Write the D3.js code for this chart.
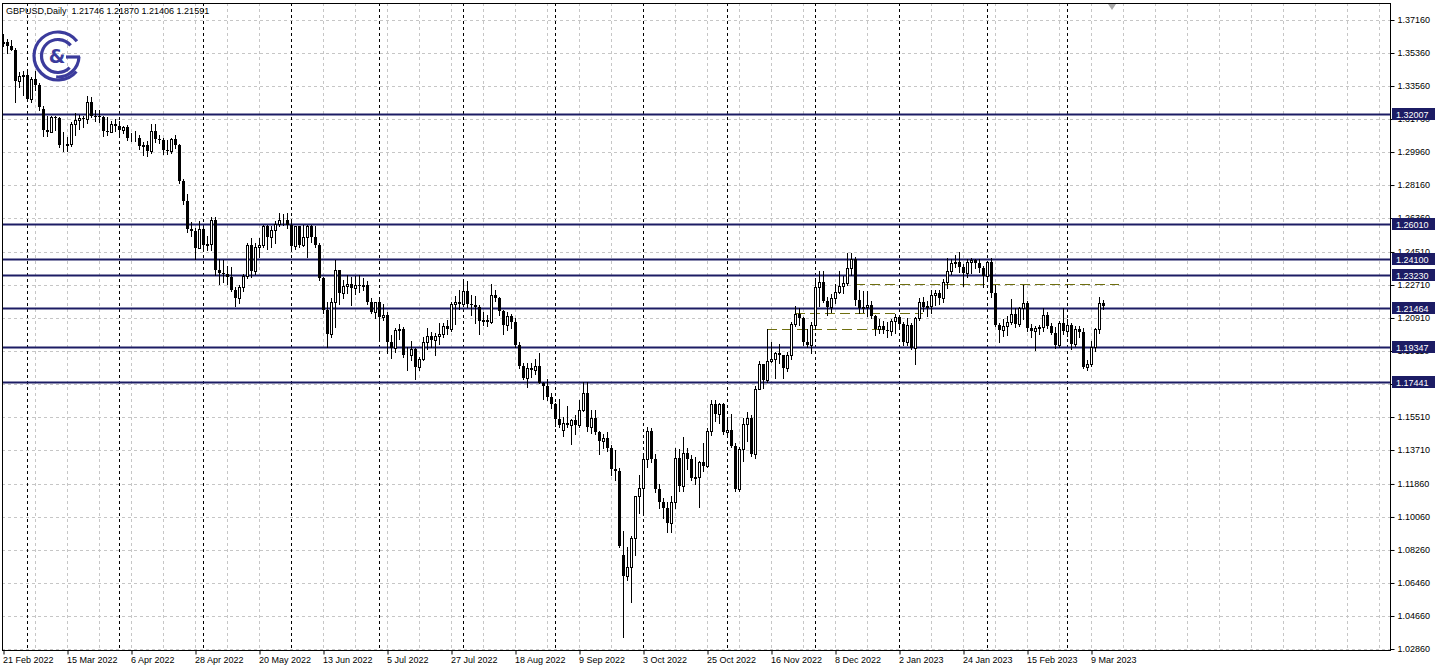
<!DOCTYPE html>
<html><head><meta charset="utf-8">
<script src="https://cdn.jsdelivr.net/npm/d3@7"></script>
<style>html,body{margin:0;padding:0;background:#fff;} svg{display:block;}</style>
</head><body><svg id="c" width="1438" height="671"></svg>
<script>
// ---------------- DATA ----------------
const symbolTitle = "GBPUSD,Daily";
const lastQuote = ["1.21746", "1.21870", "1.21406", "1.21591"];
const priceTicks = [1.37160,1.35360,1.33560,1.31760,1.29960,1.28160,1.26360,1.24510,1.22710,1.20910,1.19110,1.17310,1.15510,1.13710,1.11860,1.10060,1.08260,1.06460,1.04660,1.02860];
const levels = [1.32007,1.26010,1.24100,1.23230,1.21464,1.19347,1.17441];
const dateTicks = ["21 Feb 2022","15 Mar 2022","6 Apr 2022","28 Apr 2022","20 May 2022","13 Jun 2022","5 Jul 2022","27 Jul 2022","18 Aug 2022","9 Sep 2022","3 Oct 2022","25 Oct 2022","16 Nov 2022","8 Dec 2022","2 Jan 2023","24 Jan 2023","15 Feb 2023","9 Mar 2023"];
const dateTickEvery = 16;               // bars between date labels
const monthStartBars = [6,29,50,72,94,115,138,160,181,203,224,246,266];
// olive dashed zone lines: [price, fromBar, toBar]
const zoneLines = [[1.2031,191,221],[1.2118,198,230],[1.2276,213,279]];
// short olive vertical marker: [bar, priceTop, priceBottom]
const zoneTick = [191, 1.2031, 1.1950];

// daily candles [open, high, low, close]
const feb2022 = [
[1.3590,1.3640,1.3575,1.3595],[1.3595,1.3615,1.3535,1.3575],[1.3575,1.3605,1.3550,1.3555],
[1.3555,1.3565,1.3270,1.3385],[1.3385,1.3435,1.3350,1.3410],[1.3410,1.3440,1.3305,1.3415]];
const mar2022 = [
[1.3415,1.3440,1.3275,1.3285],[1.3285,1.3405,1.3270,1.3395],[1.3395,1.3440,1.3335,1.3360],
[1.3360,1.3375,1.3225,1.3240],[1.3230,1.3245,1.3085,1.3115],[1.3115,1.3190,1.3085,1.3105],
[1.3105,1.3190,1.3105,1.3185],[1.3185,1.3195,1.3115,1.3180],[1.3180,1.3185,1.3025,1.3035],
[1.3035,1.3105,1.3000,1.3035],[1.3035,1.3080,1.3000,1.3040],[1.3040,1.3160,1.3030,1.3150],
[1.3150,1.3210,1.3090,1.3170],[1.3170,1.3200,1.3120,1.3180],[1.3180,1.3195,1.3135,1.3175],
[1.3175,1.3300,1.3155,1.3270],[1.3270,1.3295,1.3185,1.3195],[1.3195,1.3225,1.3165,1.3190],
[1.3190,1.3225,1.3160,1.3185],[1.3185,1.3190,1.3085,1.3110],[1.3110,1.3185,1.3090,1.3105],
[1.3105,1.3165,1.3105,1.3150],[1.3150,1.3175,1.3110,1.3140]];
const apr2022 = [
[1.3140,1.3165,1.3090,1.3115],[1.3115,1.3140,1.3100,1.3130],[1.3130,1.3145,1.3060,1.3070],
[1.3070,1.3100,1.3055,1.3070],[1.3070,1.3110,1.3055,1.3075],[1.3075,1.3090,1.3010,1.3030],
[1.3030,1.3050,1.2980,1.3035],[1.3035,1.3055,1.2975,1.3000],[1.3000,1.3150,1.2990,1.3110],
[1.3110,1.3150,1.3050,1.3065],[1.3065,1.3090,1.3045,1.3060],[1.3060,1.3075,1.2985,1.3005],
[1.3005,1.3060,1.2985,1.3000],[1.3000,1.3075,1.2990,1.3065],[1.3065,1.3090,1.3020,1.3035],
[1.3035,1.3040,1.2825,1.2840],[1.2840,1.2850,1.2710,1.2730],[1.2730,1.2765,1.2560,1.2575],
[1.2575,1.2615,1.2540,1.2565],[1.2565,1.2580,1.2410,1.2475],[1.2475,1.2620,1.2470,1.2575]];
const may2022 = [
[1.2575,1.2580,1.2465,1.2490],[1.2490,1.2540,1.2460,1.2495],[1.2495,1.2640,1.2460,1.2625],
[1.2625,1.2640,1.2325,1.2355],[1.2355,1.2410,1.2275,1.2335],[1.2335,1.2405,1.2290,1.2330],
[1.2330,1.2375,1.2275,1.2315],[1.2315,1.2370,1.2240,1.2245],[1.2245,1.2260,1.2155,1.2200],
[1.2200,1.2270,1.2175,1.2260],[1.2260,1.2330,1.2240,1.2320],[1.2320,1.2500,1.2310,1.2490],
[1.2490,1.2525,1.2315,1.2345],[1.2345,1.2500,1.2330,1.2480],[1.2480,1.2525,1.2425,1.2490],
[1.2490,1.2600,1.2480,1.2590],[1.2590,1.2600,1.2465,1.2535],[1.2535,1.2595,1.2480,1.2570],
[1.2570,1.2620,1.2500,1.2605],[1.2605,1.2665,1.2590,1.2625],[1.2625,1.2660,1.2600,1.2625],
[1.2625,1.2665,1.2580,1.2600]];
const jun2022 = [
[1.2600,1.2615,1.2460,1.2485],[1.2485,1.2595,1.2465,1.2590],[1.2590,1.2595,1.2480,1.2490],
[1.2490,1.2600,1.2485,1.2530],[1.2530,1.2600,1.2425,1.2590],[1.2590,1.2600,1.2505,1.2535],
[1.2535,1.2595,1.2480,1.2490],[1.2490,1.2500,1.2300,1.2310],[1.2310,1.2315,1.2120,1.2135],
[1.2135,1.2180,1.1935,1.2005],[1.2005,1.2200,1.1990,1.2180],[1.2180,1.2405,1.2040,1.2350],
[1.2350,1.2355,1.2170,1.2225],[1.2225,1.2300,1.2200,1.2265],[1.2265,1.2325,1.2230,1.2275],
[1.2275,1.2315,1.2160,1.2255],[1.2255,1.2320,1.2220,1.2270],[1.2270,1.2325,1.2235,1.2265],
[1.2265,1.2310,1.2245,1.2270],[1.2270,1.2295,1.2165,1.2180],[1.2180,1.2200,1.2120,1.2125],
[1.2125,1.2180,1.2090,1.2180]];
const jul2022 = [
[1.2180,1.2190,1.1975,1.2095],[1.2095,1.2165,1.2080,1.2110],[1.2110,1.2125,1.1900,1.1960],
[1.1960,1.2000,1.1875,1.1925],[1.1925,1.2035,1.1905,1.2025],[1.2025,1.2060,1.1975,1.2030],
[1.2030,1.2040,1.1880,1.1890],[1.1890,1.1935,1.1805,1.1890],[1.1890,1.1965,1.1860,1.1920],
[1.1920,1.1925,1.1760,1.1825],[1.1825,1.1880,1.1805,1.1865],[1.1865,1.1990,1.1860,1.1960],
[1.1960,1.2035,1.1920,1.1995],[1.1995,1.2015,1.1935,1.1970],[1.1970,1.2010,1.1890,1.1995],
[1.1995,1.2065,1.1950,1.2005],[1.2005,1.2065,1.1990,1.2045],[1.2045,1.2080,1.2005,1.2030],
[1.2030,1.2180,1.2020,1.2165],[1.2165,1.2210,1.2060,1.2180],[1.2180,1.2245,1.2140,1.2165]];
const aug2022 = [
[1.2165,1.2295,1.2155,1.2240],[1.2240,1.2295,1.2150,1.2165],[1.2165,1.2215,1.2110,1.2160],
[1.2160,1.2210,1.2065,1.2150],[1.2150,1.2160,1.2005,1.2075],[1.2075,1.2125,1.2055,1.2080],
[1.2080,1.2110,1.2045,1.2070],[1.2070,1.2275,1.2065,1.2215],[1.2215,1.2245,1.2185,1.2200],
[1.2200,1.2205,1.2105,1.2130],[1.2130,1.2135,1.2005,1.2055],[1.2055,1.2125,1.2025,1.2100],
[1.2100,1.2115,1.2035,1.2070],[1.2070,1.2090,1.1935,1.1945],[1.1945,1.1960,1.1820,1.1830],
[1.1830,1.1845,1.1760,1.1765],[1.1765,1.1845,1.1715,1.1820],[1.1820,1.1845,1.1770,1.1805],
[1.1805,1.1865,1.1785,1.1830],[1.1830,1.1900,1.1735,1.1735],[1.1735,1.1740,1.1650,1.1720],
[1.1720,1.1760,1.1645,1.1660],[1.1660,1.1680,1.1600,1.1620]];
const sep2022 = [
[1.1620,1.1625,1.1500,1.1540],[1.1540,1.1650,1.1495,1.1510],[1.1480,1.1550,1.1445,1.1520],
[1.1520,1.1610,1.1495,1.1510],[1.1510,1.1540,1.1405,1.1535],[1.1535,1.1560,1.1460,1.1505],
[1.1505,1.1645,1.1495,1.1590],[1.1590,1.1740,1.1585,1.1680],[1.1680,1.1740,1.1475,1.1495],
[1.1495,1.1590,1.1465,1.1545],[1.1545,1.1590,1.1460,1.1470],[1.1470,1.1475,1.1350,1.1420],
[1.1420,1.1460,1.1380,1.1435],[1.1435,1.1470,1.1365,1.1380],[1.1380,1.1400,1.1235,1.1270],
[1.1270,1.1370,1.1210,1.1255],[1.1255,1.1275,1.0840,1.0850],[1.0800,1.0930,1.0350,1.0685],
[1.0685,1.0840,1.0660,1.0735],[1.0735,1.0900,1.0540,1.0890],[1.0890,1.1120,1.0800,1.1120],
[1.1120,1.1235,1.1025,1.1165]];
const oct2022 = [
[1.1165,1.1355,1.1025,1.1320],[1.1320,1.1495,1.1280,1.1475],[1.1475,1.1490,1.1305,1.1320],
[1.1320,1.1350,1.1140,1.1160],[1.1160,1.1185,1.1055,1.1090],[1.1090,1.1110,1.1000,1.1055],
[1.1055,1.1090,1.0925,1.0975],[1.0975,1.1120,1.0925,1.1090],[1.1090,1.1380,1.1055,1.1325],
[1.1325,1.1375,1.1150,1.1175],[1.1175,1.1440,1.1150,1.1355],[1.1355,1.1380,1.1270,1.1320],
[1.1320,1.1345,1.1205,1.1220],[1.1220,1.1335,1.1185,1.1225],[1.1225,1.1310,1.1060,1.1305],
[1.1305,1.1410,1.1255,1.1285],[1.1285,1.1490,1.1280,1.1475],[1.1475,1.1645,1.1455,1.1620],
[1.1620,1.1645,1.1530,1.1570],[1.1570,1.1630,1.1520,1.1620],[1.1620,1.1625,1.1460,1.1470]];
const nov2022 = [
[1.1470,1.1550,1.1445,1.1480],[1.1480,1.1565,1.1385,1.1395],[1.1395,1.1410,1.1145,1.1160],
[1.1160,1.1385,1.1150,1.1375],[1.1375,1.1545,1.1310,1.1515],[1.1515,1.1580,1.1420,1.1545],
[1.1545,1.1560,1.1340,1.1350],[1.1350,1.1720,1.1330,1.1705],[1.1705,1.1855,1.1705,1.1840],
[1.1840,1.1840,1.1710,1.1755],[1.1755,1.2030,1.1740,1.1855],[1.1855,1.1960,1.1850,1.1870],
[1.1870,1.1905,1.1765,1.1900],[1.1900,1.1950,1.1845,1.1890],[1.1890,1.1890,1.1765,1.1820],
[1.1820,1.1905,1.1800,1.1890],[1.1890,1.2070,1.1870,1.2060],[1.2060,1.2155,1.2045,1.2115],
[1.2115,1.2145,1.2055,1.2090],[1.2090,1.2095,1.1945,1.1960],[1.1960,1.2030,1.1935,1.1945],
[1.1945,1.2070,1.1900,1.2055]];
const dec2022 = [
[1.2055,1.2310,1.2030,1.2260],[1.2260,1.2345,1.2155,1.2290],[1.2290,1.2345,1.2180,1.2185],
[1.2185,1.2205,1.2105,1.2150],[1.2150,1.2220,1.2125,1.2200],[1.2200,1.2275,1.2175,1.2235],
[1.2235,1.2345,1.2225,1.2265],[1.2265,1.2320,1.2225,1.2280],[1.2280,1.2445,1.2270,1.2365],
[1.2365,1.2445,1.2325,1.2415],[1.2415,1.2425,1.2160,1.2190],[1.2190,1.2245,1.2120,1.2145],
[1.2145,1.2240,1.2125,1.2150],[1.2150,1.2240,1.2100,1.2160],[1.2160,1.2185,1.2090,1.2100],
[1.2100,1.2110,1.2000,1.2030],[1.2030,1.2085,1.2010,1.2050],[1.2050,1.2075,1.2010,1.2025],
[1.2025,1.2070,1.1990,1.2020],[1.2020,1.2085,1.2000,1.2075],[1.2075,1.2115,1.2010,1.2095]];
const jan2023 = [
[1.2095,1.2110,1.2035,1.2060],[1.2060,1.2070,1.1945,1.1960],[1.1960,1.2090,1.1945,1.2055],
[1.2055,1.2065,1.1920,1.1925],[1.1925,1.2095,1.1840,1.2090],[1.2090,1.2200,1.2080,1.2180],
[1.2180,1.2205,1.2130,1.2150],[1.2150,1.2185,1.2100,1.2155],[1.2155,1.2245,1.2120,1.2215],
[1.2215,1.2245,1.2160,1.2230],[1.2230,1.2245,1.2170,1.2200],[1.2200,1.2305,1.2180,1.2290],
[1.2290,1.2420,1.2255,1.2345],[1.2345,1.2410,1.2330,1.2390],[1.2390,1.2435,1.2370,1.2395],
[1.2395,1.2450,1.2340,1.2370],[1.2370,1.2385,1.2265,1.2335],[1.2335,1.2415,1.2315,1.2395],
[1.2395,1.2420,1.2335,1.2405],[1.2405,1.2415,1.2365,1.2390],[1.2390,1.2415,1.2340,1.2365],
[1.2365,1.2375,1.2260,1.2320]];
const feb2023 = [
[1.2320,1.2400,1.2300,1.2395],[1.2395,1.2420,1.2205,1.2230],[1.2230,1.2270,1.2045,1.2055],
[1.2055,1.2065,1.1960,1.2025],[1.2025,1.2085,1.1995,1.2045],[1.2045,1.2100,1.2000,1.2070],
[1.2070,1.2195,1.2060,1.2115],[1.2115,1.2145,1.2040,1.2060],[1.2060,1.2150,1.2045,1.2145],
[1.2145,1.2270,1.2085,1.2175],[1.2175,1.2185,1.2020,1.2035],[1.2035,1.2060,1.1990,1.2020],
[1.2020,1.2045,1.1915,1.2035],[1.2035,1.2055,1.2005,1.2040],[1.2040,1.2145,1.2020,1.2110],
[1.2110,1.2125,1.2035,1.2050],[1.2050,1.2065,1.2005,1.2010],[1.2010,1.2040,1.1925,1.1945],
[1.1945,1.2075,1.1935,1.2065],[1.2065,1.2145,1.2005,1.2020]];
const mar2023 = [
[1.2020,1.2085,1.1995,1.2055],[1.2055,1.2065,1.1920,1.1950],[1.1950,1.2045,1.1940,1.2030],
[1.2030,1.2045,1.1985,1.2015],[1.2015,1.2035,1.1820,1.1825],[1.1825,1.1860,1.1805,1.1840],
[1.1840,1.1965,1.1830,1.1935],[1.1935,1.2035,1.1910,1.2030],[1.2030,1.2205,1.2010,1.2175],
[1.21746,1.21870,1.21406,1.21591]];

const candles = [].concat(feb2022,mar2022,apr2022,may2022,jun2022,jul2022,aug2022,sep2022,
  oct2022,nov2022,dec2022,jan2023,feb2023,mar2023);

// ---------------- DRAW ----------------
const svg = d3.select("#c");
const plot = {left: 2, top: 3, right: 1390, bottom: 650};
const x = d3.scaleLinear().domain([0, 275]).range([3, 1103]);
const y = d3.scaleLinear().domain([1.02860, 1.37160]).range([649, 20]);
const px = v => Math.round(v);
const FONT = "'Liberation Sans', Arial, sans-serif";

svg.append("rect").attr("width",1438).attr("height",671).attr("fill","#fff");

svg.append("defs").append("clipPath").attr("id","pc")
  .append("rect").attr("x",plot.left).attr("y",plot.top)
  .attr("width",plot.right-plot.left).attr("height",plot.bottom-plot.top);
const g = svg.append("g").attr("clip-path","url(#pc)");

// grid: horizontal at price ticks
g.selectAll("line.hg").data(priceTicks).enter().append("line")
  .attr("x1",plot.left).attr("x2",plot.right)
  .attr("y1",d=>px(y(d))+0.5).attr("y2",d=>px(y(d))+0.5)
  .attr("stroke","#c6c6c6").attr("stroke-dasharray","3,3");
// grid: vertical every 8 bars
const vgrid = d3.range(8, 350, 8);
g.selectAll("line.vg").data(vgrid).enter().append("line")
  .attr("x1",d=>px(x(d))+0.5).attr("x2",d=>px(x(d))+0.5)
  .attr("y1",plot.top).attr("y2",plot.bottom)
  .attr("stroke","#c6c6c6").attr("stroke-dasharray","3,3");
// month separators
g.selectAll("line.ms").data(monthStartBars).enter().append("line")
  .attr("x1",d=>px(x(d))+0.5).attr("x2",d=>px(x(d))+0.5)
  .attr("y1",plot.top).attr("y2",plot.bottom)
  .attr("stroke","#000").attr("stroke-dasharray","3,3");

// logo (C & G mark)
const LC = "#3b3b9c", cxL = 58, cyL = 56, deg = Math.PI/180;
const logo = g.append("g").attr("fill","none").attr("stroke",LC).attr("stroke-width",3.2);
function arcPath(r, a0, a1, ccw){ const p = d3.path(); p.arc(cxL, cyL, r, a0*deg, a1*deg, ccw); return p.toString(); }
logo.append("path").attr("d", arcPath(24, -38, 40, true));   // outer C
logo.append("path").attr("d", arcPath(16.5, -40, 45, true)); // inner C
logo.append("path").attr("d", arcPath(21, 2, 95, false));    // G bowl
logo.append("line").attr("x1",cxL+8).attr("x2",cxL+22).attr("y1",cyL+1).attr("y2",cyL+1);
logo.append("text").attr("x",cxL-1).attr("y",cyL+7).attr("text-anchor","middle")
  .attr("stroke","none").attr("fill",LC).attr("font-family","'DejaVu Sans', sans-serif")
  .attr("font-weight","bold").attr("font-size",19).text("&");

// level lines
g.selectAll("line.lv").data(levels).enter().append("line")
  .attr("x1",plot.left).attr("x2",plot.right)
  .attr("y1",d=>px(y(d))+0.5).attr("y2",d=>px(y(d))+0.5)
  .attr("stroke","#1c1c64").attr("stroke-width",2);

// olive zone lines
g.selectAll("line.zl").data(zoneLines).enter().append("line")
  .attr("x1",d=>x(d[1])).attr("x2",d=>x(d[2]))
  .attr("y1",d=>px(y(d[0]))+0.5).attr("y2",d=>px(y(d[0]))+0.5)
  .attr("stroke","#6f6f10").attr("stroke-dasharray","10,5");
g.append("line").attr("x1",px(x(zoneTick[0]))+0.5).attr("x2",px(x(zoneTick[0]))+0.5)
  .attr("y1",px(y(zoneTick[1]))).attr("y2",px(y(zoneTick[2])))
  .attr("stroke","#6f6f10");

// candles
const cg = g.append("g");
candles.forEach((c,i)=>{
  const [o,h,l,cl] = c;
  const cx = px(x(i));
  cg.append("line").attr("x1",cx+0.5).attr("x2",cx+0.5)
    .attr("y1",px(y(h))).attr("y2",px(y(l))+1).attr("stroke","#000");
  const top = px(y(Math.max(o,cl))), bot = px(y(Math.min(o,cl)));
  if (cl >= o) {
    cg.append("rect").attr("x",cx-0.5).attr("y",top+0.5)
      .attr("width",2).attr("height",Math.max(bot-top,0))
      .attr("fill","#fff").attr("stroke","#000");
  } else {
    cg.append("rect").attr("x",cx-1).attr("y",top)
      .attr("width",3).attr("height",Math.max(bot-top,1))
      .attr("fill","#000");
  }
});

// frame
svg.append("rect").attr("x",plot.left+0.5).attr("y",plot.top+0.5)
  .attr("width",plot.right-plot.left).attr("height",plot.bottom-plot.top)
  .attr("fill","none").attr("stroke","#000");

// right price axis
const ya = svg.append("g").attr("transform",`translate(${plot.right+0.5},0)`)
  .call(d3.axisRight(y).tickValues(priceTicks).tickFormat(d3.format(".5f")).tickSize(4).tickPadding(3));
ya.select(".domain").remove();
ya.selectAll("text").attr("font-family",FONT).attr("font-size",9).attr("fill","#000");
ya.selectAll("line").attr("stroke","#000");

// bottom date axis
const tickBars = dateTicks.map((d,i)=>i*dateTickEvery);
const xa = svg.append("g").attr("transform",`translate(0.5,${plot.bottom+0.5})`)
  .call(d3.axisBottom(x).tickValues(tickBars).tickFormat((d,i)=>dateTicks[i]).tickSize(4).tickPadding(2));
xa.select(".domain").remove();
xa.selectAll("text").attr("font-family",FONT).attr("font-size",9).attr("fill","#000")
  .attr("text-anchor","start").attr("dx",-1);
xa.selectAll("line").attr("stroke","#000");

// level labels
const lb = svg.selectAll("g.lb").data(levels).enter().append("g")
  .attr("transform",d=>`translate(${plot.right+2},${px(y(d))})`);
lb.append("rect").attr("x",0).attr("y",-6).attr("width",43).attr("height",12).attr("fill","#1c1c64");
lb.append("text").attr("x",4).attr("y",3.5).attr("fill","#fff")
  .attr("font-family",FONT).attr("font-size",9).text(d=>d3.format(".5f")(d));

// header
svg.append("text").attr("x",6).attr("y",14).attr("font-family",FONT).attr("font-size",9)
  .attr("fill","#000").attr("xml:space","preserve")
  .text(symbolTitle + "  " + lastQuote.join(" "));

// shift marker
svg.append("path").attr("d","M1108,4 L1116,4 L1112,10 Z").attr("fill","#a8a8a8");
</script></body></html>
